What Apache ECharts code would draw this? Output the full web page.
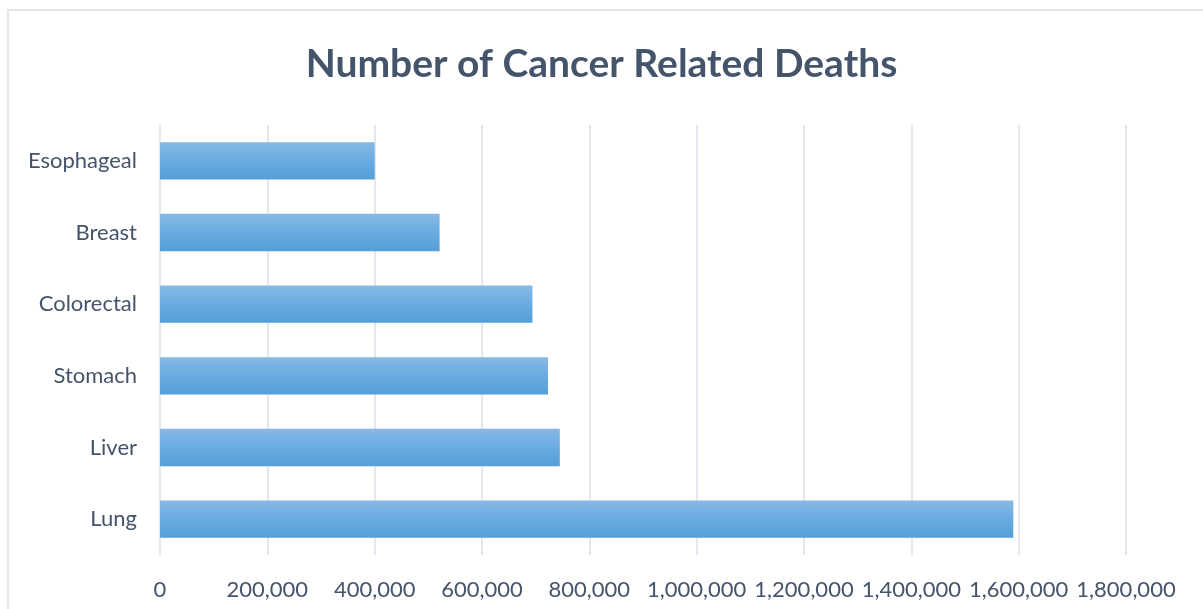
<!DOCTYPE html>
<html>
<head>
<meta charset="utf-8">
<script src="https://cdn.jsdelivr.net/npm/echarts@6/dist/echarts.min.js"></script>
<style>html,body{margin:0;padding:0;background:#fff;}#c{width:1203px;height:609px;}</style>
</head>
<body>
<div id="c"></div>
<script>
const categories = ['Lung', 'Liver', 'Stomach', 'Colorectal', 'Breast', 'Esophageal'];
const deaths = [1590000, 745000, 723000, 694000, 521000, 400000];
const titleText = 'Number of Cancer Related Deaths';

const chart = echarts.init(document.getElementById('c'));
const fmt = v => v.toString().replace(/\B(?=(\d{3})+(?!\d))/g, ',');
chart.setOption({
  animation: false,
  backgroundColor: '#fff',
  graphic: [{
    type: 'rect', shape: {x: 8, y: 10, width: 1300, height: 700},
    style: {fill: 'none', stroke: '#E3E6EB', lineWidth: 2}, silent: true
  }],
  title: {
    text: titleText, left: 'center', top: 40,
    textStyle: {fontFamily: 'Lato', fontWeight: 'bold', fontSize: 39, color: '#44546A'}
  },
  grid: {left: 160, right: 77, top: 125, bottom: 54},
  xAxis: {
    type: 'value', min: 0, max: 1800000, interval: 200000,
    axisLine: {show: false}, axisTick: {show: false},
    splitLine: {lineStyle: {color: '#E4E8EE', width: 2}},
    axisLabel: {formatter: fmt, color: '#44546A', fontFamily: 'Lato', fontSize: 22, margin: 24}
  },
  yAxis: {
    type: 'category', data: categories,
    axisLine: {show: false}, axisTick: {show: false},
    axisLabel: {color: '#44546A', fontFamily: 'Lato', fontSize: 22, margin: 23}
  },
  series: [{
    type: 'bar', data: deaths, barWidth: '52%',
    itemStyle: {
      color: new echarts.graphic.LinearGradient(0, 0, 0, 1, [
        {offset: 0, color: '#88B9E4'},
        {offset: 0.5, color: '#69ABE3'},
        {offset: 1, color: '#559ED6'}
      ])
    }
  }]
});
</script>
</body>
</html>
